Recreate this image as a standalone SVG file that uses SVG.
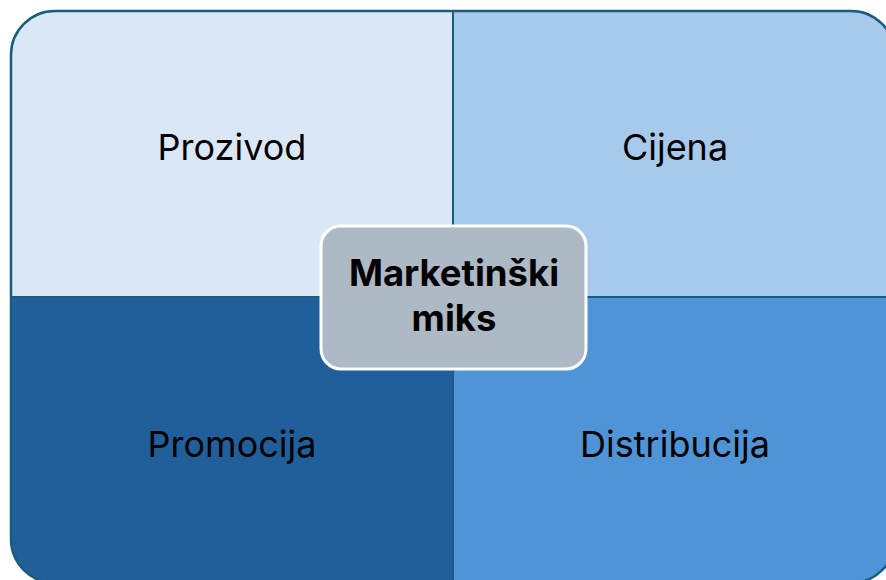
<svg xmlns="http://www.w3.org/2000/svg" width="886" height="580" viewBox="0 0 886 580">
<defs>
<style>
.lbl{font-family:Inter,"Liberation Sans",Arial,sans-serif;font-size:36px;fill:#000;text-anchor:middle}
.ctr{font-family:Inter,"Liberation Sans",Arial,sans-serif;font-size:36.5px;font-weight:bold;fill:#000;text-anchor:middle}
.div{stroke:#1A5C7E;stroke-width:2;fill:none}
</style>
<clipPath id="outer"><rect x="11" y="11" width="884" height="572" rx="44" ry="44"/></clipPath>
</defs>
<rect width="886" height="580" fill="#fff"/>
<g clip-path="url(#outer)">
<g id="prozivod"><rect x="11" y="11" width="442" height="286" fill="#DAE8F6"/><text class="lbl" x="232" y="160">Prozivod</text></g>
<g id="cijena"><rect x="453" y="11" width="442" height="286" fill="#A7C9EB"/><text class="lbl" x="675" y="160">Cijena</text></g>
<g id="promocija"><rect x="11" y="297" width="442" height="286" fill="#215F9A"/><text class="lbl" x="232" y="457">Promocija</text></g>
<g id="distribucija"><rect x="453" y="297" width="442" height="286" fill="#4F94D6"/><text class="lbl" x="675" y="457">Distribucija</text></g>
</g>
<g id="connectors">
<line class="div" x1="453" y1="11" x2="453" y2="583"/>
<line class="div" x1="11" y1="297" x2="895" y2="297"/>
</g>
<rect x="11" y="11" width="884" height="572" rx="44" ry="44" fill="none" stroke="#1A5C7E" stroke-width="2.5"/>
<g id="center">
<rect x="321" y="226" width="265" height="143" rx="20" ry="20" fill="#ADB9C5" stroke="#fff" stroke-width="3"/>
<text class="ctr" x="454" y="286">Marketinški</text>
<text class="ctr" x="454" y="331">miks</text>
</g>
</svg>
